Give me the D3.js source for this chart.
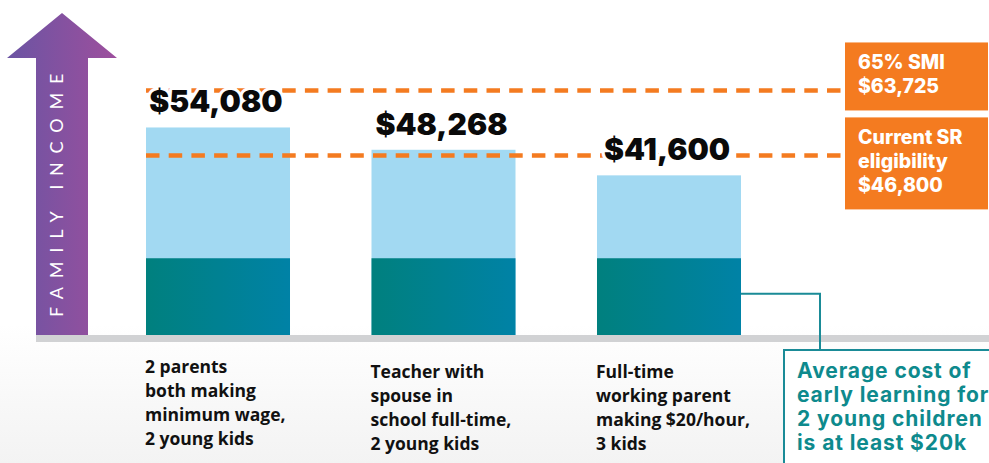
<!DOCTYPE html>
<html>
<head>
<meta charset="utf-8">
<script src="https://cdn.jsdelivr.net/npm/d3@7/dist/d3.min.js"></script>
<style>
  html, body { margin: 0; padding: 0; background: #ffffff; }
  svg { display: block; font-family: Lato, "Open Sans", sans-serif; }
</style>
</head>
<body>
<svg id="chart" width="989" height="463"></svg>
<script>
// ---- data ----
const categories = ["minwage", "teacher", "fulltime"];
const categoryLabels = [
  ["2 parents", "both making", "minimum wage,", "2 young kids"],
  ["Teacher with", "spouse in", "school full-time,", "2 young kids"],
  ["Full-time", "working parent", "making $20/hour,", "3 kids"]
];
const familyIncome = [54080, 48268, 41600];
const incomeLabels = ["$54,080", "$48,268", "$41,600"];
const childcareCost = [20000, 20000, 20000];
const thresholds = [63725, 46800];
const thresholdLabels = [["65% SMI", "$63,725"], ["Current SR", "eligibility", "$46,800"]];
const axisTitle = "FAMILY INCOME";
const calloutLines = ["Average cost of", "early learning for", "2 young children", "is at least $20k"];

// ---- setup ----
const W = 989, H = 463;
const svg = d3.select("#chart");
const defs = svg.append("defs");

const bg = defs.append("linearGradient").attr("id", "bg").attr("x1", 0).attr("y1", 0).attr("x2", 0).attr("y2", 1);
bg.append("stop").attr("offset", "0.7").attr("stop-color", "#ffffff");
bg.append("stop").attr("offset", "1").attr("stop-color", "#f3f3f3");
const arrowGrad = defs.append("linearGradient").attr("id", "arrowGrad").attr("x1", 0).attr("y1", 0).attr("x2", 1).attr("y2", 0);
arrowGrad.append("stop").attr("offset", "0").attr("stop-color", "#6b54a3");
arrowGrad.append("stop").attr("offset", "1").attr("stop-color", "#9d4f9d");
const tealGrad = defs.append("linearGradient").attr("id", "tealGrad").attr("x1", 0).attr("y1", 0).attr("x2", 1).attr("y2", 0);
tealGrad.append("stop").attr("offset", "0").attr("stop-color", "#00807e");
tealGrad.append("stop").attr("offset", "1").attr("stop-color", "#0082a6");

svg.append("rect").attr("width", W).attr("height", H).attr("fill", "url(#bg)");

const baseline = 335;
const y = d3.scaleLinear().domain([0, 80000]).range([baseline, 28]);
const x = d3.scaleBand().domain(categories).range([146, 741]).paddingInner(0.3614).paddingOuter(0);

const heavy = "Inter, 'Open Sans', sans-serif";
const semi = "'Open Sans', Lato, sans-serif";

// arrow (y-axis decoration)
const ax = 62;
svg.append("path")
  .attr("d", `M${ax - 26},${baseline} L${ax - 26},${58} L${ax - 55},${58} L${ax},${13} L${ax + 55},${58} L${ax + 26},${58} L${ax + 26},${baseline} Z`)
  .attr("fill", "url(#arrowGrad)");
svg.append("text")
  .attr("transform", `translate(${ax + 1},${191}) rotate(-90)`)
  .attr("text-anchor", "middle")
  .attr("fill", "#ffffff")
  .attr("font-family", "Lato, sans-serif")
  .attr("font-size", 18)
  .attr("font-weight", 400)
  .attr("letter-spacing", 8.8)
  .text(axisTitle);

// baseline
svg.append("rect").attr("x", 36).attr("y", baseline).attr("width", W - 36).attr("height", 7).attr("fill", "#d1d2d4");

// bars
const g = svg.append("g");
g.selectAll("rect.income").data(categories).join("rect")
  .attr("class", "income")
  .attr("x", d => x(d))
  .attr("width", x.bandwidth())
  .attr("y", (d, i) => y(familyIncome[i]))
  .attr("height", (d, i) => y(0) - y(familyIncome[i]))
  .attr("fill", "#a2d9f2");
g.selectAll("rect.cost").data(categories).join("rect")
  .attr("class", "cost")
  .attr("x", d => x(d))
  .attr("width", x.bandwidth())
  .attr("y", (d, i) => y(childcareCost[i]))
  .attr("height", (d, i) => y(0) - y(childcareCost[i]))
  .attr("fill", "url(#tealGrad)");

// threshold dashed lines
const boxX = 845;
svg.selectAll("line.thr").data(thresholds).join("line")
  .attr("class", "thr")
  .attr("x1", 146).attr("x2", boxX - 3)
  .attr("y1", d => y(d)).attr("y2", d => y(d))
  .attr("stroke", "#f47b20")
  .attr("stroke-width", 4.5)
  .attr("stroke-dasharray", "13.5,9.2");

// income labels (white knock-out)
svg.selectAll("text.val").data(categories).join("text")
  .attr("class", "val")
  .attr("x", d => x(d) + x.bandwidth() / 2 - 2)
  .attr("y", (d, i) => y(familyIncome[i]) - 15)
  .attr("text-anchor", "middle")
  .attr("font-family", heavy)
  .attr("font-size", 30)
  .attr("font-weight", 900)
  .attr("fill", "#0a0a0a")
  .attr("stroke", "#ffffff")
  .attr("stroke-width", 6)
  .attr("paint-order", "stroke")
  .attr("stroke-linejoin", "round")
  .text((d, i) => incomeLabels[i]);

// threshold boxes
const lineH = 24;
thresholds.forEach((t, i) => {
  const lines = thresholdLabels[i];
  const bh = lines.length * lineH + 20;
  const top = i === 0 ? y(t) - 48 : y(t) - 38;
  svg.append("rect").attr("x", boxX).attr("y", top).attr("width", W - boxX - 1).attr("height", bh).attr("fill", "#f47b20");
  const tx = svg.append("text").attr("x", 858).attr("y", top + 27)
    .attr("fill", "#ffffff").attr("font-family", heavy).attr("font-size", 19.5).attr("font-weight", 800);
  lines.forEach((l, j) => tx.append("tspan").attr("x", 858).attr("dy", j === 0 ? 0 : lineH).text(l));
});

// category labels
categories.forEach((c, i) => {
  const t = svg.append("text").attr("x", x(c) - 1).attr("y", i === 0 ? 373 : 378)
    .attr("fill", "#111111").attr("font-family", semi).attr("font-size", 17.5).attr("font-weight", 700);
  categoryLabels[i].forEach((l, j) => t.append("tspan").attr("x", x(c) - 1).attr("dy", j === 0 ? 0 : 24).text(l));
});

// callout
const last = categories[categories.length - 1];
const cy = y(childcareCost[2] / 2) - 3;
const cBoxX = 784, cBoxY = 350;
svg.append("path")
  .attr("d", `M${x(last) + x.bandwidth()},${cy} L820,${cy} L820,${cBoxY}`)
  .attr("fill", "none").attr("stroke", "#1a8b97").attr("stroke-width", 2);
svg.append("rect").attr("x", cBoxX).attr("y", cBoxY).attr("width", W - cBoxX + 10).attr("height", H - cBoxY + 10)
  .attr("fill", "#ffffff").attr("stroke", "#1a8b97").attr("stroke-width", 2);
const ct = svg.append("text").attr("x", 797).attr("y", 378).attr("fill", "#0e8a8d")
  .attr("font-family", heavy).attr("font-size", 21).attr("font-weight", 700).attr("letter-spacing", 0.9);
calloutLines.forEach((l, j) => ct.append("tspan").attr("x", 797).attr("dy", j === 0 ? 0 : 24).text(l));
</script>
</body>
</html>
